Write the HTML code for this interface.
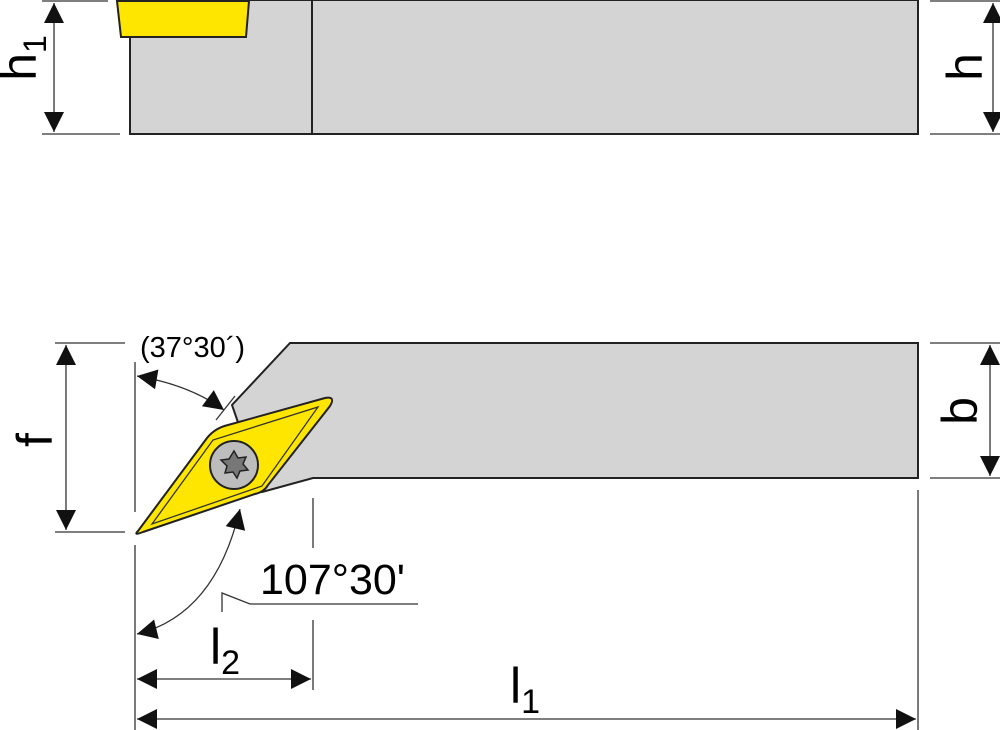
<!DOCTYPE html>
<html><head><style>html,body{margin:0;padding:0;background:#fff}svg{display:block}</style></head><body>
<svg width="1000" height="730" viewBox="0 0 1000 730" xmlns="http://www.w3.org/2000/svg" font-family="Liberation Sans, sans-serif">
<defs>
<marker id="a" viewBox="0 0 10 10" refX="10" refY="5" markerWidth="30" markerHeight="20" markerUnits="userSpaceOnUse" orient="auto-start-reverse"><path d="M0,0 L10,5 L0,10 z" fill="#111"/></marker>
</defs>
<g stroke="#222" stroke-width="2">
<rect x="130" y="0" width="788" height="134" fill="#d4d4d4"/>
<line x1="312" y1="0" x2="312" y2="134"/>
<polygon points="117,1 249,1 246,37 121,37" fill="#ffe600"/>
</g>
<g stroke="#333" stroke-width="1.3" fill="none">
<line x1="42" y1="1" x2="108" y2="1"/>
<line x1="42" y1="134" x2="120" y2="134"/>
<line x1="930" y1="1" x2="1000" y2="1"/>
<line x1="930" y1="134" x2="1000" y2="134"/>
<line x1="54" y1="3" x2="54" y2="132" marker-start="url(#a)" marker-end="url(#a)"/>
<line x1="993" y1="3" x2="993" y2="132" marker-start="url(#a)" marker-end="url(#a)"/>
</g>
<text transform="translate(36,58) rotate(-90)" font-size="50" text-anchor="middle">h<tspan font-size="32" dy="10">1</tspan></text>
<text transform="translate(982,67) rotate(-90)" font-size="50" text-anchor="middle">h</text>

<polygon points="290,343 918,343 918,478 313,478 262,492 232,405" fill="#d4d4d4" stroke="#222" stroke-width="2"/>
<g stroke="#333" stroke-width="1.3" fill="none">
<line x1="55" y1="343" x2="125" y2="343"/>
<line x1="55" y1="532" x2="125" y2="532"/>
<line x1="930" y1="343" x2="1000" y2="343"/>
<line x1="930" y1="478" x2="1000" y2="478"/>
<line x1="66" y1="345" x2="66" y2="530" marker-start="url(#a)" marker-end="url(#a)"/>
<line x1="990" y1="345" x2="990" y2="476" marker-start="url(#a)" marker-end="url(#a)"/>
<line x1="135" y1="362" x2="135" y2="512"/>
<line x1="135" y1="545" x2="135" y2="730"/>
<line x1="918" y1="490" x2="918" y2="730"/>
<line x1="313" y1="498" x2="313" y2="548"/>
<line x1="313" y1="620" x2="313" y2="690"/>
<line x1="137" y1="679" x2="311" y2="679" marker-start="url(#a)" marker-end="url(#a)"/>
<line x1="137" y1="719" x2="916" y2="719" marker-start="url(#a)" marker-end="url(#a)"/>
<path d="M137,376 Q190,385 224,410" marker-start="url(#a)" marker-end="url(#a)"/>
<line x1="216" y1="420" x2="235" y2="396"/>
<path d="M137,634 Q215,615 240,509" marker-start="url(#a)" marker-end="url(#a)"/>
<polyline points="222,612 222,593 250,604 418,604"/>
</g>
<path d="M138,531 L207,438 Q215,428 228,425 L325,398 Q336,396 330,406 L268,485 Q264,492 255,494 L143,532 Q133,536 138,531 Z" fill="#ffe600" stroke="#222" stroke-width="2"/>
<path d="M152,524 L213,440 L318,407 L262,486 Z" fill="none" stroke="#333" stroke-width="1.3"/>
<circle cx="234" cy="465" r="24" fill="#bdbdbd" stroke="#222" stroke-width="2"/>
<path d="M234,451 l4,7 8,-1 -3,7 5,6 -8,1 -3,7 -4,-6 -8,1 2,-7 -6,-6 8,-1 z" fill="#777" stroke="#222" stroke-width="1.5"/>
<text x="140" y="357" font-size="29">(37°30´)</text>
<text x="260" y="594" font-size="43">107°30'</text>
<text transform="translate(52,440) rotate(-90)" font-size="50" text-anchor="middle">f</text>
<text transform="translate(977,411) rotate(-90)" font-size="50" text-anchor="middle">b</text>
<text x="210" y="664" font-size="50">l<tspan font-size="34" dy="10">2</tspan></text>
<text x="510" y="703" font-size="50">l<tspan font-size="34" dy="10">1</tspan></text>
</svg>
</body></html>
